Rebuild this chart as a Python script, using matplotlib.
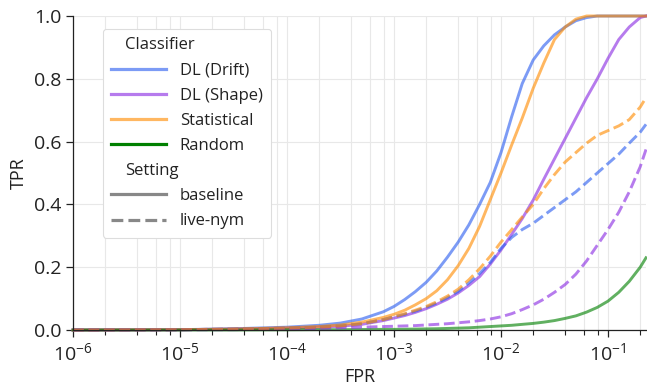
import matplotlib
matplotlib.use("Agg")
import matplotlib.pyplot as plt
import numpy as np
from matplotlib.lines import Line2D
from matplotlib.ticker import LogLocator, NullFormatter

plt.rcParams['font.family'] = ['Open Sans', 'DejaVu Sans']
plt.rcParams['mathtext.fontset'] = 'custom'
plt.rcParams['mathtext.rm'] = 'Open Sans'
plt.rcParams['mathtext.it'] = 'Open Sans:italic'
plt.rcParams['mathtext.bf'] = 'Open Sans:bold'

# FPR values
fpr = [1e-6, 1e-5, 3.16e-5, 1e-4, 2e-4, 3.16e-4, 5e-4, 7.94e-4,
       1e-3, 1.26e-3, 1.58e-3, 2e-3, 2.51e-3, 3.16e-3, 3.98e-3, 5.01e-3,
       6.31e-3, 7.94e-3, 1e-2, 1.26e-2, 1.58e-2, 2e-2, 2.51e-2, 3.16e-2,
       3.98e-2, 5.01e-2, 6.31e-2, 7.94e-2, 0.1, 0.126, 0.158, 0.2, 0.2265]

# baseline
drift_base = [0, .001, .004, .009, .015, .022, .035, .058,
              .075, .097, .122, .152, .188, .232, .28, .335,
              .40, .47, .565, .68, .785, .86, .905, .94,
              .965, .985, .995, 1, 1, 1, 1, 1, 1]
shape_base = [0, .001, .003, .006, .009, .012, .018, .03,
              .038, .046, .056, .068, .082, .098, .118, .142,
              .17, .21, .255, .305, .355, .414, .48, .545,
              .61, .675, .74, .80, .865, .925, .965, .995, 1]
stat_base = [0, .001, .003, .007, .011, .016, .025, .04,
             .05, .063, .08, .10, .125, .16, .205, .26,
             .33, .415, .50, .59, .675, .77, .85, .925,
             .965, .99, 1, 1, 1, 1, 1, 1, 1]
random_base = [0, 0, 0, .0005, .001, .001, .0015, .002,
               .002, .0025, .003, .0035, .004, .005, .006, .007,
               .009, .011, .013, .015, .018, .021, .025, .03,
               .037, .045, .057, .072, .092, .12, .155, .2, .23]

# live-nym
drift_live = [0, .001, .003, .006, .009, .013, .02, .033,
              .042, .05, .06, .072, .086, .103, .123, .15,
              .18, .215, .26, .295, .32, .34, .365, .39,
              .415, .44, .47, .50, .53, .56, .595, .63, .655]
shape_live = [0, .0005, .001, .003, .005, .007, .009, .011,
              .012, .013, .014, .016, .018, .02, .023, .026,
              .03, .035, .042, .052, .065, .08, .098, .12,
              .145, .178, .22, .27, .32, .375, .44, .52, .575]
stat_live = [0, .001, .003, .006, .009, .013, .02, .033,
             .042, .052, .063, .075, .09, .108, .13, .16,
             .195, .235, .28, .32, .36, .40, .45, .495,
             .535, .565, .595, .62, .635, .65, .67, .71, .74]

classifiers = ['DL (Drift)', 'DL (Shape)', 'Statistical', 'Random']
colors = ['#2c5ef0', '#8a2be2', '#ff8c00', '#008000']
settings = ['baseline', 'live-nym']
styles = ['-', '--']

curves = {
    ('DL (Drift)', 'baseline'): drift_base,
    ('DL (Shape)', 'baseline'): shape_base,
    ('Statistical', 'baseline'): stat_base,
    ('Random', 'baseline'): random_base,
    ('DL (Drift)', 'live-nym'): drift_live,
    ('DL (Shape)', 'live-nym'): shape_live,
    ('Statistical', 'live-nym'): stat_live,
}

fig = plt.figure(figsize=(6.47, 3.87), dpi=100)
ax = fig.add_axes([73/647, 57/387, 573/647, 314/387])

for (clf, setting), tpr in curves.items():
    c = colors[classifiers.index(clf)]
    ls = styles[settings.index(setting)]
    ax.plot(fpr, tpr, color=c, ls=ls, lw=2.1, alpha=0.62, clip_on=False)

ax.set_xscale('log')
ax.set_xlim(1e-6, 0.2265)
ax.set_ylim(0, 1.0)
ax.xaxis.set_major_locator(LogLocator(base=10, numticks=10))
ax.xaxis.set_minor_locator(LogLocator(base=10, subs=(2, 4, 6, 8), numticks=20))
ax.xaxis.set_minor_formatter(NullFormatter())
ax.set_yticks([0, 0.2, 0.4, 0.6, 0.8, 1.0])
ax.set_yticklabels(['0.0', '0.2', '0.4', '0.6', '0.8', '1.0'])

ax.grid(True, which='major', color='#e8e8e8', lw=0.8)
ax.grid(True, which='minor', axis='x', color='#e8e8e8', lw=0.8)
ax.set_axisbelow(True)
for s in ['top', 'right']:
    ax.spines[s].set_visible(False)
for s in ['left', 'bottom']:
    ax.spines[s].set_color('#222222')
    ax.spines[s].set_linewidth(0.9)
ax.tick_params(axis='both', which='major', labelsize=14, length=5, width=0.9, color='#222222', labelcolor='#222222')
ax.tick_params(axis='x', which='minor', length=3.5, width=0.8, color='#222222')
ax.set_xlabel('FPR', fontsize=13, color='#222222', labelpad=3)
ax.set_ylabel('TPR', fontsize=13, color='#222222', labelpad=4)

handles = [Line2D([], [], color='none', label='Classifier')]
for clf, c in zip(classifiers, colors):
    a = 1.0 if clf == 'Random' else 0.62
    handles.append(Line2D([], [], color=c, lw=2.3, alpha=a, label=clf))
handles.append(Line2D([], [], color='none', label='Setting'))
for st, ls in zip(settings, styles):
    handles.append(Line2D([], [], color='#888888', lw=2.3, ls=ls, label=st))

leg = ax.legend(handles=handles, loc='upper left', bbox_to_anchor=(30/573, 1 - 13/314),
                borderaxespad=0, fontsize=12, handlelength=3.3, handletextpad=0.8,
                labelspacing=0.55, frameon=True, fancybox=True, edgecolor='#dddddd',
                framealpha=1.0, borderpad=0.5)
leg.get_frame().set_linewidth(0.8)
for hp in leg._legend_handle_box.get_children()[0].get_children():
    da, ta = hp.get_children()
    if ta.get_text() in ('Classifier', 'Setting'):
        da.set_width(0)
for t in leg.get_texts():
    t.set_color('#222222')

fig.savefig('out.png', dpi=100)
